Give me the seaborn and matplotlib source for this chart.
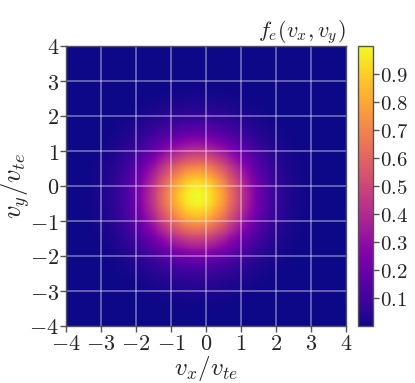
import numpy as np
import pandas as pd
import matplotlib
matplotlib.use("Agg")
import matplotlib.pyplot as plt
import seaborn as sns

# Chart content: Maxwellian electron distribution f_e(v_x, v_y)
vx_center = -0.25      # drift in v_x / v_te
vy_center = -0.30      # drift in v_y / v_te
v_range = [-4.0, 4.0]  # axis extent
axis_ticks = [-4, -3, -2, -1, 0, 1, 2, 3, 4]
cbar_ticks = [0.1, 0.2, 0.3, 0.4, 0.5, 0.6, 0.7, 0.8, 0.9]
n_cells = 300

sns.set_style("ticks")
plt.rcParams["mathtext.fontset"] = "cm"
plt.rcParams["font.family"] = ["DejaVu Serif"]

edges = np.linspace(v_range[0], v_range[1], n_cells + 1)
centers = 0.5 * (edges[:-1] + edges[1:])
VX, VY = np.meshgrid(centers, centers[::-1])
f = np.exp(-((VX - vx_center) ** 2 + (VY - vy_center) ** 2) / 2.0)
df = pd.DataFrame(f)

W, H = 415, 383
fig = plt.figure(figsize=(W / 100, H / 100), dpi=100)
ax = fig.add_axes([66 / W, (H - 326) / H, 280 / W, 280 / H])
cax = fig.add_axes([358 / W, (H - 326) / H, 15 / W, 280 / H])

sns.heatmap(df, ax=ax, cbar_ax=cax, cmap="plasma", vmin=0.0, vmax=1.0,
            xticklabels=False, yticklabels=False, rasterized=True)

span = v_range[1] - v_range[0]
xpos = [(v - v_range[0]) * n_cells / span for v in axis_ticks]
ypos = [(v_range[1] - v) * n_cells / span for v in axis_ticks]
ax.set_xticks(xpos)
ax.set_xticklabels([f"${v}$" for v in axis_ticks], fontsize=16)
ax.set_yticks(ypos)
ax.set_yticklabels([f"${v}$" for v in axis_ticks], fontsize=16)
ax.tick_params(direction="out", length=4, width=1, color="#555555", pad=1)
ax.set_aspect("auto")

for p in xpos[1:-1]:
    ax.axvline(p, color="white", alpha=0.45, lw=1.1)
for p in ypos[1:-1]:
    ax.axhline(p, color="white", alpha=0.45, lw=1.1)

for s in ax.spines.values():
    s.set_visible(True)
    s.set_color("#555555")
    s.set_linewidth(1)

ax.set_xlabel(r"$v_x/v_{te}$", fontsize=18, labelpad=-1)
ax.set_ylabel(r"$v_y/v_{te}$", fontsize=19, labelpad=-2)
ax.set_title(r"$f_e(v_x, v_y)$", fontsize=16, loc="right", pad=2)

cb = ax.collections[0].colorbar
cb.set_ticks(cbar_ticks)
cb.set_ticklabels([f"${t}$" for t in cbar_ticks])
cax.tick_params(labelsize=15, direction="out", length=4, width=1, color="#555555", pad=1)
cb.outline.set_visible(True)
cb.outline.set_edgecolor("#555555")
cb.outline.set_linewidth(1)

fig.savefig("out.png", dpi=100)
